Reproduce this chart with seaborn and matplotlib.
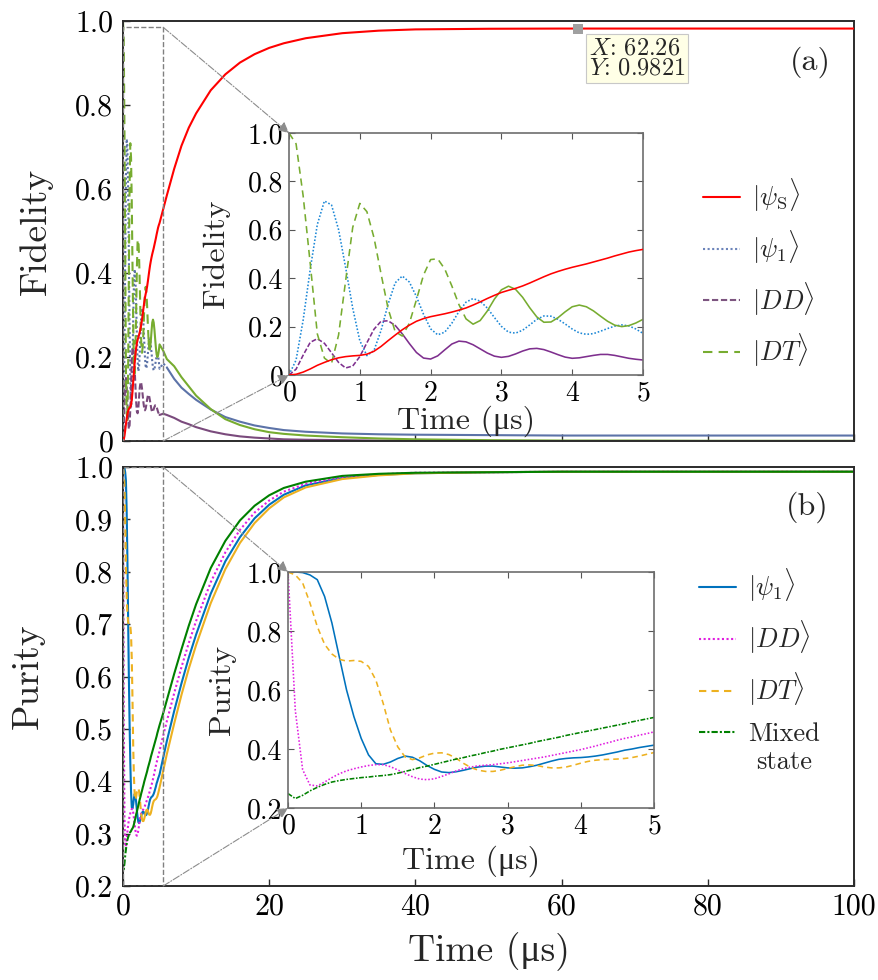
import numpy as np
import matplotlib
matplotlib.use("Agg")
import matplotlib.pyplot as plt
import seaborn as sns
from matplotlib.patches import Rectangle, ConnectionPatch
from matplotlib.lines import Line2D
from matplotlib.legend_handler import HandlerLine2D

sns.set_theme(style="white")
plt.rcParams["font.family"] = ["cmr10", "Liberation Serif", "DejaVu Serif"]
plt.rcParams["mathtext.fontset"] = "cm"
plt.rcParams["axes.formatter.use_mathtext"] = True
plt.rcParams["axes.unicode_minus"] = False

# ---------------- data ----------------
# time grid of the zoomed region (0..5 us, step 0.1) and of the long tail
t_short = [round(0.1 * i, 1) for i in range(51)]
t_long = [5.5, 6, 7, 8, 9, 10, 12, 14, 16, 18, 20, 22, 25, 30, 35, 40, 50, 60, 70, 80, 90, 100]

# Fidelity (a)
fid_psiS_short = [0.000, 0.003, 0.012, 0.025, 0.040, 0.052, 0.063, 0.071, 0.076, 0.079,
                  0.081, 0.086, 0.098, 0.118, 0.142, 0.165, 0.187, 0.206, 0.222, 0.233,
                  0.241, 0.247, 0.253, 0.260, 0.268, 0.277, 0.289, 0.302, 0.316, 0.329,
                  0.341, 0.350, 0.358, 0.368, 0.380, 0.393, 0.406, 0.418, 0.428, 0.437,
                  0.445, 0.452, 0.459, 0.467, 0.475, 0.483, 0.492, 0.500, 0.508, 0.514, 0.519]
fid_psiS_long = [0.552, 0.585, 0.648, 0.703, 0.746, 0.780, 0.835, 0.873, 0.901, 0.921, 0.936,
                 0.947, 0.959, 0.971, 0.977, 0.980, 0.9815, 0.982, 0.982, 0.982, 0.982, 0.982]

fid_psi1_short = [0.000, 0.062, 0.227, 0.437, 0.622, 0.719, 0.703, 0.601, 0.444, 0.276,
                  0.142, 0.080, 0.101, 0.184, 0.293, 0.381, 0.409, 0.384, 0.324, 0.251,
                  0.191, 0.166, 0.177, 0.214, 0.262, 0.301, 0.316, 0.305, 0.277, 0.238,
                  0.201, 0.177, 0.173, 0.185, 0.207, 0.230, 0.244, 0.243, 0.230, 0.211,
                  0.190, 0.174, 0.168, 0.171, 0.181, 0.192, 0.202, 0.207, 0.203, 0.190, 0.172]
fid_psi1_long = [0.185, 0.175, 0.148, 0.127, 0.112, 0.098, 0.075, 0.057, 0.046, 0.037, 0.031,
                 0.026, 0.022, 0.018, 0.016, 0.015, 0.014, 0.013, 0.013, 0.013, 0.013, 0.013]

fid_DD_short = [0.000, 0.024, 0.082, 0.135, 0.150, 0.131, 0.092, 0.052, 0.029, 0.037,
                0.076, 0.133, 0.189, 0.222, 0.224, 0.205, 0.170, 0.130, 0.093, 0.070,
                0.066, 0.079, 0.104, 0.128, 0.140, 0.137, 0.125, 0.108, 0.091, 0.078,
                0.073, 0.077, 0.087, 0.099, 0.108, 0.110, 0.105, 0.095, 0.084, 0.074,
                0.069, 0.071, 0.076, 0.081, 0.085, 0.085, 0.081, 0.075, 0.069, 0.065, 0.062]
fid_DD_long = [0.065, 0.062, 0.055, 0.046, 0.040, 0.033, 0.023, 0.016, 0.011, 0.008, 0.006,
               0.004, 0.003, 0.002, 0.001, 0.001, 0.0, 0.0, 0.0, 0.0, 0.0, 0.0]

fid_DT_short = [1.000, 0.955, 0.740, 0.460, 0.170, 0.070, 0.047, 0.165, 0.390, 0.610,
                0.709, 0.675, 0.568, 0.418, 0.274, 0.179, 0.161, 0.214, 0.311, 0.413,
                0.477, 0.480, 0.438, 0.368, 0.291, 0.232, 0.210, 0.225, 0.264, 0.313,
                0.352, 0.367, 0.354, 0.321, 0.278, 0.240, 0.218, 0.219, 0.237, 0.261,
                0.282, 0.289, 0.282, 0.265, 0.243, 0.222, 0.206, 0.200, 0.204, 0.215, 0.230]
fid_DT_long = [0.215, 0.195, 0.178, 0.152, 0.130, 0.108, 0.076, 0.052, 0.038, 0.028, 0.021,
               0.017, 0.013, 0.009, 0.006, 0.004, 0.002, 0.001, 0.001, 0.0005, 0.0005, 0.0005]

# Purity (b)
pur_psi1_short = [1.000, 1.000, 0.998, 0.990, 0.974, 0.917, 0.827, 0.713, 0.600, 0.510,
                  0.436, 0.380, 0.350, 0.348, 0.356, 0.368, 0.376, 0.372, 0.360, 0.344,
                  0.331, 0.322, 0.320, 0.323, 0.328, 0.334, 0.339, 0.342, 0.342, 0.339,
                  0.336, 0.335, 0.336, 0.340, 0.345, 0.352, 0.359, 0.365, 0.368, 0.370,
                  0.371, 0.373, 0.376, 0.380, 0.385, 0.390, 0.396, 0.400, 0.405, 0.409, 0.413]
pur_psi1_long = [0.445, 0.477, 0.534, 0.587, 0.636, 0.680, 0.758, 0.820, 0.866, 0.902, 0.928,
                 0.947, 0.965, 0.979, 0.985, 0.988, 0.990, 0.991, 0.991, 0.991, 0.991, 0.991]

pur_DD_short = [1.000, 0.530, 0.330, 0.278, 0.275, 0.288, 0.303, 0.316, 0.326, 0.333,
                0.339, 0.344, 0.347, 0.347, 0.340, 0.329, 0.317, 0.306, 0.298, 0.296,
                0.299, 0.307, 0.316, 0.326, 0.334, 0.339, 0.343, 0.345, 0.347, 0.350,
                0.353, 0.357, 0.361, 0.365, 0.369, 0.373, 0.378, 0.383, 0.388, 0.393,
                0.398, 0.404, 0.410, 0.417, 0.423, 0.430, 0.436, 0.441, 0.447, 0.452, 0.458]
pur_DD_long = [0.487, 0.515, 0.568, 0.618, 0.664, 0.706, 0.780, 0.837, 0.880, 0.913, 0.936,
               0.953, 0.968, 0.981, 0.986, 0.989, 0.990, 0.991, 0.991, 0.991, 0.991, 0.991]

pur_DT_short = [1.000, 0.990, 0.963, 0.895, 0.815, 0.755, 0.722, 0.704, 0.698, 0.700,
                0.697, 0.680, 0.634, 0.555, 0.464, 0.407, 0.373, 0.364, 0.370, 0.380,
                0.386, 0.387, 0.381, 0.368, 0.351, 0.337, 0.328, 0.324, 0.324, 0.328,
                0.334, 0.340, 0.345, 0.346, 0.344, 0.339, 0.336, 0.336, 0.339, 0.345,
                0.352, 0.358, 0.362, 0.364, 0.365, 0.366, 0.368, 0.371, 0.376, 0.382, 0.388]
pur_DT_long = [0.420, 0.452, 0.510, 0.565, 0.615, 0.660, 0.740, 0.805, 0.855, 0.893, 0.921,
               0.942, 0.961, 0.977, 0.984, 0.988, 0.990, 0.991, 0.991, 0.991, 0.991, 0.991]

pur_mix_short = [0.249, 0.232, 0.243, 0.258, 0.270, 0.280, 0.288, 0.293, 0.297, 0.300,
                 0.303, 0.305, 0.308, 0.310, 0.313, 0.318, 0.324, 0.330, 0.337, 0.342,
                 0.348, 0.354, 0.360, 0.366, 0.371, 0.377, 0.382, 0.388, 0.393, 0.399,
                 0.404, 0.409, 0.414, 0.419, 0.425, 0.430, 0.435, 0.440, 0.446, 0.451,
                 0.456, 0.461, 0.466, 0.471, 0.476, 0.481, 0.486, 0.492, 0.497, 0.502, 0.507]
pur_mix_long = [0.530, 0.555, 0.605, 0.652, 0.697, 0.738, 0.807, 0.859, 0.898, 0.926, 0.946,
                0.960, 0.972, 0.983, 0.987, 0.989, 0.990, 0.991, 0.991, 0.991, 0.991, 0.991]

datatip_x, datatip_y = 62.26, 0.9821

fid_labels = [r"$|\psi_{\rm S}\rangle$", r"$|\psi_1\rangle$", r"$|DD\rangle$", r"$|DT\rangle$"]
pur_labels = [r"$|\psi_1\rangle$", r"$|DD\rangle$", r"$|DT\rangle$", "Mixed\nstate"]

# ---------------- styles ----------------
C_RED = "#FF0000"
C_P1_MAIN = "#5C73A8"
C_DD_MAIN = "#7A4A7C"
C_GREEN = "#77AC30"
C_P1_IN = "#1B87D6"
C_DD_IN = "#7E2F8E"
C_BLUE = "#0072BD"
C_MAG = "#E01EE0"
C_ORG = "#EDB120"
C_MIX = "#008000"
DOT = (0, (1, 1.2))
DASH_DD = (0, (3, 1.3))
DASH_DT = (0, (4.5, 3))
DASH_OR = (0, (3.5, 2.5))
DASHDOT = (0, (3, 1, 1, 1))
LW_MAIN = 1.5
LW_IN = 1.15

W, H = 879, 980


def rect(l, t, r, b):
    return [l / W, 1 - b / H, (r - l) / W, (b - t) / H]


def draw(ax, x, y, color, lw, ls="-", z=2):
    sns.lineplot(x=list(x), y=list(y), ax=ax, color=color, lw=lw, linestyle=ls,
                 estimator=None, sort=False, legend=False, zorder=z)


def draw_split(ax, x, y, k, color, lw, ls_first, ls_second="-", z=2):
    draw(ax, x[:k + 1], y[:k + 1], color, lw, ls_first, z)
    draw(ax, x[k:], y[k:], color, lw, ls_second, z)


fig = plt.figure(figsize=(8.79, 9.8), dpi=100)
ax1 = fig.add_axes(rect(123, 21, 854, 441))
ax2 = fig.add_axes(rect(123, 467, 854, 886))
axa = fig.add_axes(rect(289, 133, 643, 375))
axb = fig.add_axes(rect(288, 572, 654, 808))

t_full = t_short + t_long

# ---------------- panel (a) main ----------------
draw_split(ax1, t_full, fid_psi1_short + fid_psi1_long, 52, C_P1_MAIN, LW_MAIN, DOT)
draw_split(ax1, t_full, fid_DD_short + fid_DD_long, 50, C_DD_MAIN, LW_MAIN, DASH_DD)
draw_split(ax1, t_full, fid_DT_short + fid_DT_long, 35, C_GREEN, LW_MAIN, DASH_DT)
draw(ax1, t_full, fid_psiS_short + fid_psiS_long, C_RED, LW_MAIN, "-", 3)

ax1.set_xlim(0, 100)
ax1.set_ylim(0, 1.0)
ax1.set_xticks([0, 20, 40, 60, 80, 100])
ax1.set_xticklabels([])
ax1.set_yticks([0, 0.2, 0.4, 0.6, 0.8, 1.0])
ax1.set_yticklabels(["0", "0.2", "0.4", "0.6", "0.8", "1.0"])
ax1.set_xlabel("")
ax1.set_ylabel("Fidelity", fontsize=27)
ax1.yaxis.set_label_coords(-0.096, 0.5)

ax1.add_patch(Rectangle((0, 0), 5.5, 0.985, fill=False, ls="--", ec="#808080", lw=1.0, zorder=4))

sns.scatterplot(x=[datatip_x], y=[datatip_y], ax=ax1, marker="s", s=55, color="#A0A0A0",
                linewidth=0, zorder=5, legend=False)
ax1.text(0.637, 0.962, r"$X$: 62.26" + "\n" + r"$Y$: 0.9821", transform=ax1.transAxes,
         ha="left", va="top", fontsize=17.5, linespacing=0.92, zorder=6,
         bbox=dict(boxstyle="square,pad=0.12", fc="#FFFFE6", ec="#C8C8C8", lw=0.8))
ax1.text(0.941, 0.902, "(a)", transform=ax1.transAxes, ha="center", va="center", fontsize=23)

hA = [Line2D([], [], color=C_RED, lw=LW_MAIN),
      Line2D([], [], color="#6C84BA", lw=LW_MAIN, ls=DOT),
      Line2D([], [], color="#7D5580", lw=LW_MAIN, ls=DASH_DD),
      Line2D([], [], color=C_GREEN, lw=LW_MAIN, ls=DASH_DT)]
ax1.legend(hA, fid_labels, loc="center left", bbox_to_anchor=(0.7934, 0.40), frameon=False,
           fontsize=19, handlelength=1.4, handletextpad=0.45, labelspacing=0.55,
           borderpad=0, borderaxespad=0)

# ---------------- panel (a) inset ----------------
axa.set_facecolor("white")
draw(axa, t_short, fid_psi1_short, C_P1_IN, LW_IN, DOT)
draw_split(axa, t_short, fid_DD_short, 15, C_DD_IN, LW_IN, DASH_DD)
draw_split(axa, t_short, fid_DT_short, 25, C_GREEN, LW_IN, DASH_DT)
draw(axa, t_short, fid_psiS_short, C_RED, LW_IN, "-", 3)
axa.set_xlim(0, 5)
axa.set_ylim(0, 1.0)
axa.set_xticks([0, 1, 2, 3, 4, 5])
axa.set_yticks([0, 0.2, 0.4, 0.6, 0.8, 1.0])
axa.set_yticklabels(["0", "0.2", "0.4", "0.6", "0.8", "1.0"])
axa.set_xlabel("Time (μs)", fontsize=23)
axa.set_ylabel("Fidelity", fontsize=23)
axa.xaxis.set_label_coords(0.5, -0.124)
axa.yaxis.set_label_coords(-0.167, 0.5)

# ---------------- panel (b) main ----------------
draw(ax2, t_full, pur_psi1_short + pur_psi1_long, C_BLUE, LW_MAIN, "-")
draw(ax2, t_full, pur_DD_short + pur_DD_long, C_MAG, LW_MAIN, DOT)
draw_split(ax2, t_full, pur_DT_short + pur_DT_long, 25, C_ORG, LW_MAIN, DASH_OR)
draw_split(ax2, t_full, pur_mix_short + pur_mix_long, 10, C_MIX, LW_MAIN, DASHDOT)

ax2.set_xlim(0, 100)
ax2.set_ylim(0.2, 1.0)
ax2.set_xticks([0, 20, 40, 60, 80, 100])
ax2.set_xticklabels(["0", "20", "40", "60", "80", "100"])
ax2.set_yticks([0.2, 0.3, 0.4, 0.5, 0.6, 0.7, 0.8, 0.9, 1.0])
ax2.set_yticklabels(["0.2", "0.3", "0.4", "0.5", "0.6", "0.7", "0.8", "0.9", "1.0"])
ax2.set_xlabel("Time (μs)", fontsize=27)
ax2.set_ylabel("Purity", fontsize=27)
ax2.xaxis.set_label_coords(0.5, -0.11)
ax2.yaxis.set_label_coords(-0.107, 0.5)
ax2.add_patch(Rectangle((0, 0.2), 5.5, 0.8, fill=False, ls="--", ec="#808080", lw=1.0, zorder=4))
ax2.text(0.936, 0.905, "(b)", transform=ax2.transAxes, ha="center", va="center", fontsize=23)


class UpLineHandler(HandlerLine2D):
    def __init__(self, shift, **kw):
        super().__init__(**kw)
        self.shift = shift

    def create_artists(self, legend, orig_handle, xdescent, ydescent, width, height,
                       fontsize, trans):
        arts = super().create_artists(legend, orig_handle, xdescent, ydescent, width,
                                      height, fontsize, trans)
        for a in arts:
            a.set_ydata(np.asarray(a.get_ydata()) + self.shift * fontsize)
        return arts


hB = [Line2D([], [], color=C_BLUE, lw=LW_MAIN),
      Line2D([], [], color=C_MAG, lw=LW_MAIN, ls=DOT),
      Line2D([], [], color=C_ORG, lw=LW_MAIN, ls=DASH_OR),
      Line2D([], [], color=C_MIX, lw=LW_MAIN, ls=DASHDOT)]
legB = ax2.legend(hB, pur_labels, loc="center left", bbox_to_anchor=(0.788, 0.515),
                  frameon=False, fontsize=19, handlelength=1.4, handletextpad=0.45,
                  labelspacing=0.55, borderpad=0, borderaxespad=0,
                  handler_map={hB[3]: UpLineHandler(0.6)})
for txt in legB.get_texts():
    txt.set_multialignment("center")

# ---------------- panel (b) inset ----------------
axb.set_facecolor("white")
draw(axb, t_short, pur_psi1_short, C_BLUE, LW_IN, "-")
draw(axb, t_short, pur_DD_short, C_MAG, LW_IN, DOT)
draw(axb, t_short, pur_DT_short, C_ORG, LW_IN, DASH_OR)
draw(axb, t_short, pur_mix_short, C_MIX, LW_IN, DASHDOT)
axb.set_xlim(0, 5)
axb.set_ylim(0.2, 1.0)
axb.set_xticks([0, 1, 2, 3, 4, 5])
axb.set_yticks([0.2, 0.4, 0.6, 0.8, 1.0])
axb.set_yticklabels(["0.2", "0.4", "0.6", "0.8", "1.0"])
axb.set_xlabel("Time (μs)", fontsize=23)
axb.set_ylabel("Purity", fontsize=23)
axb.xaxis.set_label_coords(0.5, -0.157)
axb.yaxis.set_label_coords(-0.142, 0.5)

# ---------------- axes cosmetics ----------------
for ax in (ax1, ax2):
    for s in ax.spines.values():
        s.set_color("#2B2B2B")
        s.set_linewidth(1.4)
    ax.tick_params(direction="in", length=5, width=1.0, color="#2B2B2B", labelcolor="black",
                   labelsize=21.5, pad=7, top=False, right=False, left=True, bottom=True)
    ax.tick_params(axis="x", pad=5)
for ax in (axa, axb):
    for s in ax.spines.values():
        s.set_color("#6E6E6E")
        s.set_linewidth(1.2)
    ax.tick_params(direction="in", length=4, width=0.8, color="#555555", labelcolor="black",
                   labelsize=20, pad=4, top=True, right=True, left=True, bottom=True)

# zoom connectors
for axm, axi, ytop, ybot in ((ax1, axa, 0.985, 0.0), (ax2, axb, 1.0, 0.2)):
    for yy, corner in ((ytop, (0, 1)), (ybot, (0, 0))):
        con = ConnectionPatch(xyA=(5.5, yy), coordsA=axm.transData, xyB=corner,
                              coordsB=axi.transAxes, arrowstyle="-|>", ls="-.",
                              color="#8C8C8C", lw=0.8, mutation_scale=16, zorder=10)
        fig.add_artist(con)

fig.savefig("out.png", dpi=100)
